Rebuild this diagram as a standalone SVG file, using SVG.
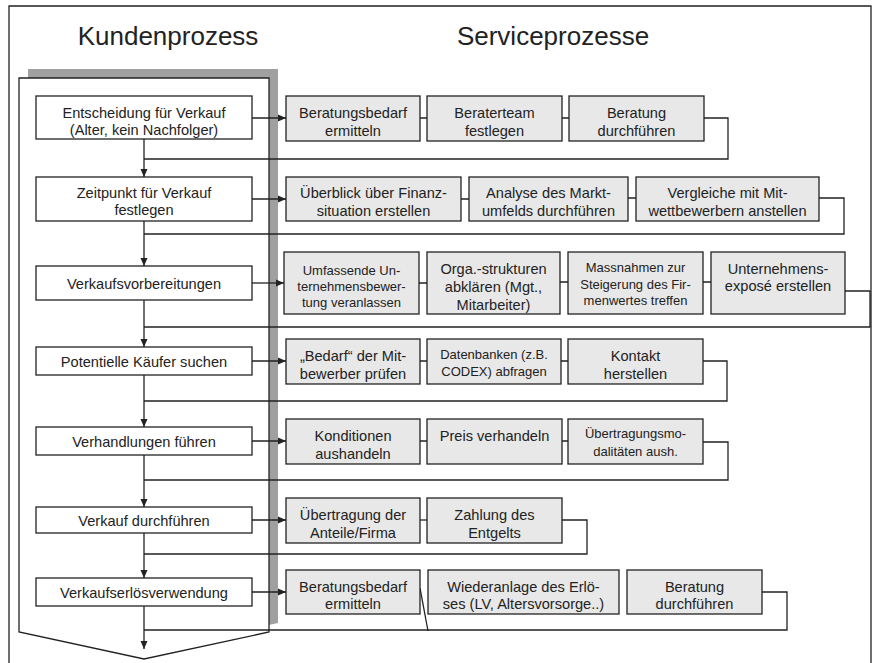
<svg xmlns="http://www.w3.org/2000/svg" width="877" height="663" viewBox="0 0 877 663">
<defs>
<style>
.frame{fill:none;stroke:#222;stroke-width:1.3}
.lb{fill:#fff;stroke:#222;stroke-width:1.3}
.rb{fill:#e8e8e8;stroke:#222;stroke-width:1.3}
.ln{fill:none;stroke:#222;stroke-width:1.3}
.ar{fill:none;stroke:#222;stroke-width:1.3;marker-end:url(#ah)}
text{font-family:"Liberation Sans",Arial,sans-serif;fill:#222;text-anchor:middle}
.t{font-size:14.6px}
.s{font-size:13px}
.h{font-size:26px}
</style>
<marker id="ah" markerUnits="userSpaceOnUse" markerWidth="9" markerHeight="8" refX="8" refY="4" orient="auto">
<path d="M0,0.5 L8,4 L0,7.5 z" fill="#222"/>
</marker>
</defs>
<rect width="877" height="663" fill="#fff"/>
<path class="frame" d="M9,670 V6 H871 V670"/>
<text class="h" x="168" y="45">Kundenprozess</text>
<text class="h" x="553" y="45">Serviceprozesse</text>
<g id="panel">
<path d="M28,69 H278 V623 L153,650 L28,623 Z" fill="#a0a0a0"/>
<path d="M19,78 H269 V632 L144,659 L19,632 Z" fill="#fff" stroke="#222" stroke-width="1.3"/>
</g>
<g id="connectors">
<path class="ar" d="M144,139 V177"/>
<path class="ar" d="M144,221 V266"/>
<path class="ar" d="M144,300 V347"/>
<path class="ar" d="M144,375 V427"/>
<path class="ar" d="M144,455 V507"/>
<path class="ar" d="M144,533 V578"/>
<path class="ar" d="M144,606 V649"/>
<path class="ar" d="M252,118 H286"/>
<path class="ar" d="M252,199 H286"/>
<path class="ar" d="M252,283 H284"/>
<path class="ar" d="M252,361 H286"/>
<path class="ar" d="M252,441 H286"/>
<path class="ar" d="M252,520 H286"/>
<path class="ar" d="M252,592 H286"/>
<path class="ln" d="M144,159 H728 V118 H704"/>
<path class="ln" d="M144,234 H844 V198 H819"/>
<path class="ln" d="M144,327 H870 V291 H845"/>
<path class="ln" d="M144,401 H727 V361 H703"/>
<path class="ln" d="M144,480 H728 V442 H703"/>
<path class="ln" d="M144,554 H587 V520 H562"/>
<path class="ln" d="M144,630 H787 V592 H762"/>
<path class="ln" d="M420,118 H427 M562,118 H569"/>
<path class="ln" d="M461,199 H469 M628,198 H636"/>
<path class="ln" d="M419,283 H427 M560,282 H568 M703,282 H711"/>
<path class="ln" d="M420,361 H427 M561,361 H568"/>
<path class="ln" d="M420,441 H427 M562,441 H568"/>
<path class="ln" d="M420,520 H427"/>
<path class="ln" d="M420,588 L428,631"/>
</g>
<g id="k1"><rect class="lb" x="36" y="96" width="216" height="43"/><text class="t" x="144" y="117.5">Entscheidung für Verkauf</text><text class="t" x="144" y="135">(Alter, kein Nachfolger)</text></g>
<g id="k2"><rect class="lb" x="36" y="177" width="216" height="44"/><text class="t" x="144" y="198">Zeitpunkt für Verkauf</text><text class="t" x="144" y="215">festlegen</text></g>
<g id="k3"><rect class="lb" x="36" y="266" width="216" height="34"/><text class="t" x="144" y="288.5">Verkaufsvorbereitungen</text></g>
<g id="k4"><rect class="lb" x="36" y="347" width="216" height="28"/><text class="t" x="144" y="366.5">Potentielle Käufer suchen</text></g>
<g id="k5"><rect class="lb" x="36" y="427" width="216" height="28"/><text class="t" x="144" y="446.5">Verhandlungen führen</text></g>
<g id="k6"><rect class="lb" x="36" y="507" width="216" height="26"/><text class="t" x="144" y="525.5">Verkauf durchführen</text></g>
<g id="k7"><rect class="lb" x="36" y="578" width="216" height="28"/><text class="t" x="144" y="597.5">Verkaufserlösverwendung</text></g>

<g id="s1a"><rect class="rb" x="286" y="96" width="134" height="45"/><text class="t" x="353" y="118">Beratungsbedarf</text><text class="t" x="353" y="135.5">ermitteln</text></g>
<g id="s1b"><rect class="rb" x="427" y="96" width="135" height="45"/><text class="t" x="494.5" y="118">Beraterteam</text><text class="t" x="494.5" y="135.5">festlegen</text></g>
<g id="s1c"><rect class="rb" x="569" y="96" width="135" height="45"/><text class="t" x="636.5" y="118">Beratung</text><text class="t" x="636.5" y="135.5">durchführen</text></g>

<g id="s2a"><rect class="rb" x="286" y="177" width="175" height="44"/><text class="t" x="373.5" y="198">Überblick über Finanz-</text><text class="t" x="373.5" y="215.5">situation erstellen</text></g>
<g id="s2b"><rect class="rb" x="469" y="177" width="159" height="44"/><text class="t" x="548.5" y="198">Analyse des Markt-</text><text class="t" x="548.5" y="215.5">umfelds durchführen</text></g>
<g id="s2c"><rect class="rb" x="636" y="177" width="183" height="44"/><text class="t" x="727.5" y="198">Vergleiche mit Mit-</text><text class="t" x="727.5" y="215.5">wettbewerbern anstellen</text></g>

<g id="s3a"><rect class="rb" x="284" y="252" width="135" height="62"/><text class="s" x="351.5" y="274.5">Umfassende Un-</text><text class="s" x="351.5" y="291">ternehmensbewer-</text><text class="s" x="351.5" y="307">tung veranlassen</text></g>
<g id="s3b"><rect class="rb" x="427" y="252" width="133" height="62"/><text class="t" x="493.5" y="273.5">Orga.-strukturen</text><text class="t" x="493.5" y="292">abklären (Mgt.,</text><text class="t" x="493.5" y="310">Mitarbeiter)</text></g>
<g id="s3c"><rect class="rb" x="568" y="252" width="135" height="62"/><text class="s" x="635.5" y="272">Massnahmen zur</text><text class="s" x="635.5" y="288.5">Steigerung des Fir-</text><text class="s" x="635.5" y="305">menwertes treffen</text></g>
<g id="s3d"><rect class="rb" x="711" y="252" width="134" height="62"/><text class="t" x="778" y="273.5">Unternehmens-</text><text class="t" x="778" y="291">exposé erstellen</text></g>

<g id="s4a"><rect class="rb" x="286" y="339" width="134" height="45"/><text class="t" x="353" y="361">„Bedarf“ der Mit-</text><text class="t" x="353" y="378.5">bewerber prüfen</text></g>
<g id="s4b"><rect class="rb" x="427" y="339" width="134" height="45"/><text class="s" x="494" y="358.5">Datenbanken (z.B.</text><text class="s" x="494" y="376">CODEX) abfragen</text></g>
<g id="s4c"><rect class="rb" x="568" y="339" width="135" height="45"/><text class="t" x="635.5" y="361">Kontakt</text><text class="t" x="635.5" y="378.5">herstellen</text></g>

<g id="s5a"><rect class="rb" x="286" y="419" width="134" height="45"/><text class="t" x="353" y="441">Konditionen</text><text class="t" x="353" y="458.5">aushandeln</text></g>
<g id="s5b"><rect class="rb" x="427" y="419" width="135" height="45"/><text class="t" x="494.5" y="441">Preis verhandeln</text></g>
<g id="s5c"><rect class="rb" x="568" y="419" width="135" height="45"/><text class="s" x="635.5" y="438">Übertragungsmo-</text><text class="s" x="635.5" y="455.5">dalitäten aush.</text></g>

<g id="s6a"><rect class="rb" x="286" y="498" width="134" height="45"/><text class="t" x="353" y="520">Übertragung der</text><text class="t" x="353" y="537.5">Anteile/Firma</text></g>
<g id="s6b"><rect class="rb" x="427" y="498" width="135" height="45"/><text class="t" x="494.5" y="520">Zahlung des</text><text class="t" x="494.5" y="537.5">Entgelts</text></g>

<g id="s7a"><rect class="rb" x="286" y="570" width="134" height="44"/><text class="t" x="353" y="591.5">Beratungsbedarf</text><text class="t" x="353" y="609">ermitteln</text></g>
<g id="s7b"><rect class="rb" x="428" y="570" width="191" height="44"/><text class="t" x="523.5" y="591.5">Wiederanlage des Erlö-</text><text class="t" x="523.5" y="609">ses (LV, Altersvorsorge..)</text></g>
<g id="s7c"><rect class="rb" x="627" y="570" width="135" height="44"/><text class="t" x="694.5" y="591.5">Beratung</text><text class="t" x="694.5" y="609">durchführen</text></g>
</svg>
